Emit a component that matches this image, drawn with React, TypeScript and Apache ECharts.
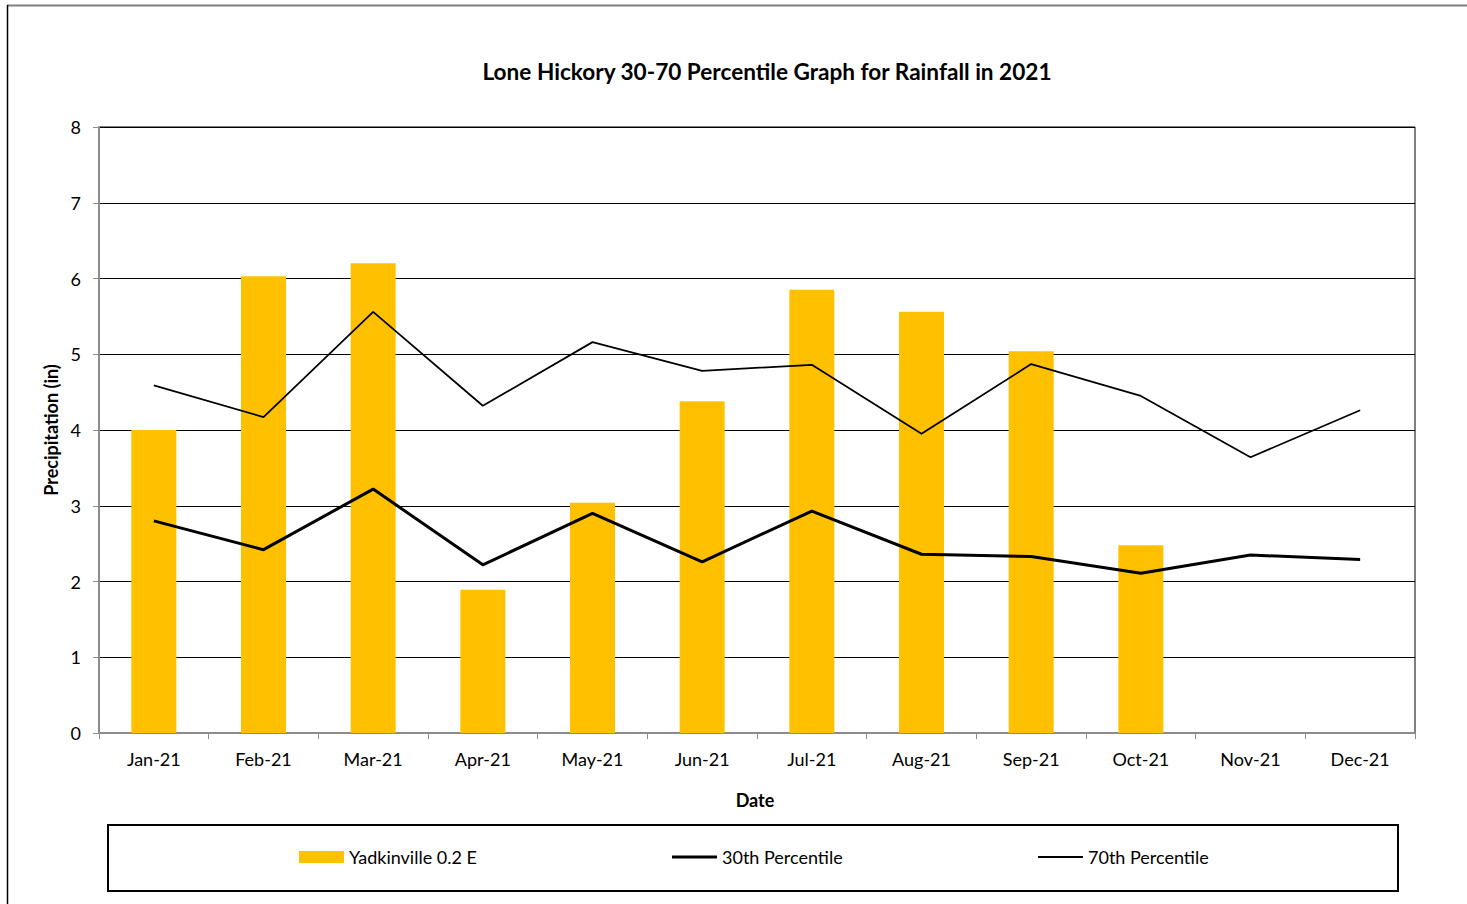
import React, { useEffect, useRef } from "react";
import * as echarts from "echarts";

const categories = ["Jan-21", "Feb-21", "Mar-21", "Apr-21", "May-21", "Jun-21", "Jul-21", "Aug-21", "Sep-21", "Oct-21", "Nov-21", "Dec-21"];
const yadkinville = [4.0, 6.03, 6.2, 1.89, 3.04, 4.38, 5.85, 5.56, 5.04, 2.48, null, null];
const p30 = [2.8, 2.42, 3.22, 2.22, 2.9, 2.26, 2.93, 2.36, 2.33, 2.11, 2.35, 2.29];
const p70 = [4.59, 4.17, 5.56, 4.32, 5.16, 4.78, 4.86, 3.95, 4.87, 4.45, 3.64, 4.26];

const FONT = "Lato";

export default function App() {
  const ref = useRef<HTMLDivElement>(null);
  useEffect(() => {
    const chart = echarts.init(ref.current!, null, { renderer: "svg" });
    const legendText = { fontFamily: FONT, fontSize: 18, color: "#000" };
    chart.setOption({
      animation: false,
      backgroundColor: "#ffffff",
      textStyle: { fontFamily: FONT, color: "#000" },
      title: {
        text: "Lone Hickory 30-70 Percentile Graph for Rainfall in 2021",
        left: 762,
        textAlign: "center",
        top: 55,
        textStyle: { fontFamily: FONT, fontSize: 22.6, fontWeight: "bold", color: "#000" },
      },
      grid: {
        left: 99,
        top: 127,
        right: 52,
        bottom: 171,
        show: true,
        borderColor: "#000",
        borderWidth: 1,
        backgroundColor: "transparent",
      },
      legend: [
        {
          data: ["Yadkinville 0.2 E"],
          left: 294,
          top: 843,
          itemWidth: 45,
          itemHeight: 12,
          icon: "rect",
          textStyle: legendText,
        },
        {
          data: ["30th Percentile"],
          left: 667,
          top: 843,
          itemWidth: 45,
          itemHeight: 3,
          icon: "rect",
          itemStyle: { color: "#000" },
          textStyle: legendText,
        },
        {
          data: ["70th Percentile"],
          left: 1033,
          top: 843,
          itemWidth: 45,
          itemHeight: 2,
          icon: "rect",
          itemStyle: { color: "#000" },
          textStyle: legendText,
        },
      ],
      xAxis: {
        type: "category",
        data: categories,
        boundaryGap: true,
        name: "Date",
        nameLocation: "middle",
        nameGap: 58,
        nameTextStyle: { fontFamily: FONT, fontSize: 18, fontWeight: "bold", color: "#000", padding: [0, 4, 0, 0] },
        axisLine: { show: true, lineStyle: { color: "#8c8c8c", width: 2 } },
        axisTick: { show: true, alignWithLabel: false, length: 6, lineStyle: { color: "#8c8c8c" } },
        axisLabel: { fontFamily: FONT, fontSize: 18, color: "#000", margin: 17 },
        splitLine: { show: false },
      },
      yAxis: {
        type: "value",
        min: 0,
        max: 8,
        interval: 1,
        name: "Precipitation (in)",
        nameLocation: "middle",
        nameGap: 39,
        nameRotate: 90,
        nameTextStyle: { fontFamily: FONT, fontSize: 18, fontWeight: "bold", color: "#000" },
        axisLine: { show: true, lineStyle: { color: "#8c8c8c", width: 2 } },
        axisTick: { show: true, length: 6, lineStyle: { color: "#8c8c8c" } },
        axisLabel: { fontFamily: FONT, fontSize: 18, color: "#000", margin: 18 },
        splitLine: { show: true, lineStyle: { color: "#000", width: 1 } },
      },
      series: [
        {
          name: "Yadkinville 0.2 E",
          type: "bar",
          data: yadkinville,
          barWidth: 45,
          itemStyle: { color: "#FFC000" },
        },
        {
          name: "30th Percentile",
          type: "line",
          data: p30,
          symbol: "none",
          lineStyle: { color: "#000", width: 3 },
          itemStyle: { color: "#000" },
        },
        {
          name: "70th Percentile",
          type: "line",
          data: p70,
          symbol: "none",
          lineStyle: { color: "#000", width: 1.75 },
          itemStyle: { color: "#000" },
        },
      ],
      graphic: [
        {
          type: "line",
          shape: { x1: 7, y1: 5.5, x2: 1467, y2: 5.5 },
          style: { stroke: "#7f7f7f", lineWidth: 2 },
          silent: true,
        },
        {
          type: "line",
          shape: { x1: 7.5, y1: 5, x2: 7.5, y2: 904 },
          style: { stroke: "#000", lineWidth: 1.5 },
          silent: true,
        },
        {
          type: "rect",
          shape: { x: 108, y: 825, width: 1290, height: 66 },
          style: { fill: "none", stroke: "#000", lineWidth: 2 },
          silent: true,
        },
      ],
    });
    return () => chart.dispose();
  }, []);
  return (
    <div
      ref={ref}
      style={{ position: "absolute", left: 0, top: 0, width: 1467, height: 904 }}
    />
  );
}
